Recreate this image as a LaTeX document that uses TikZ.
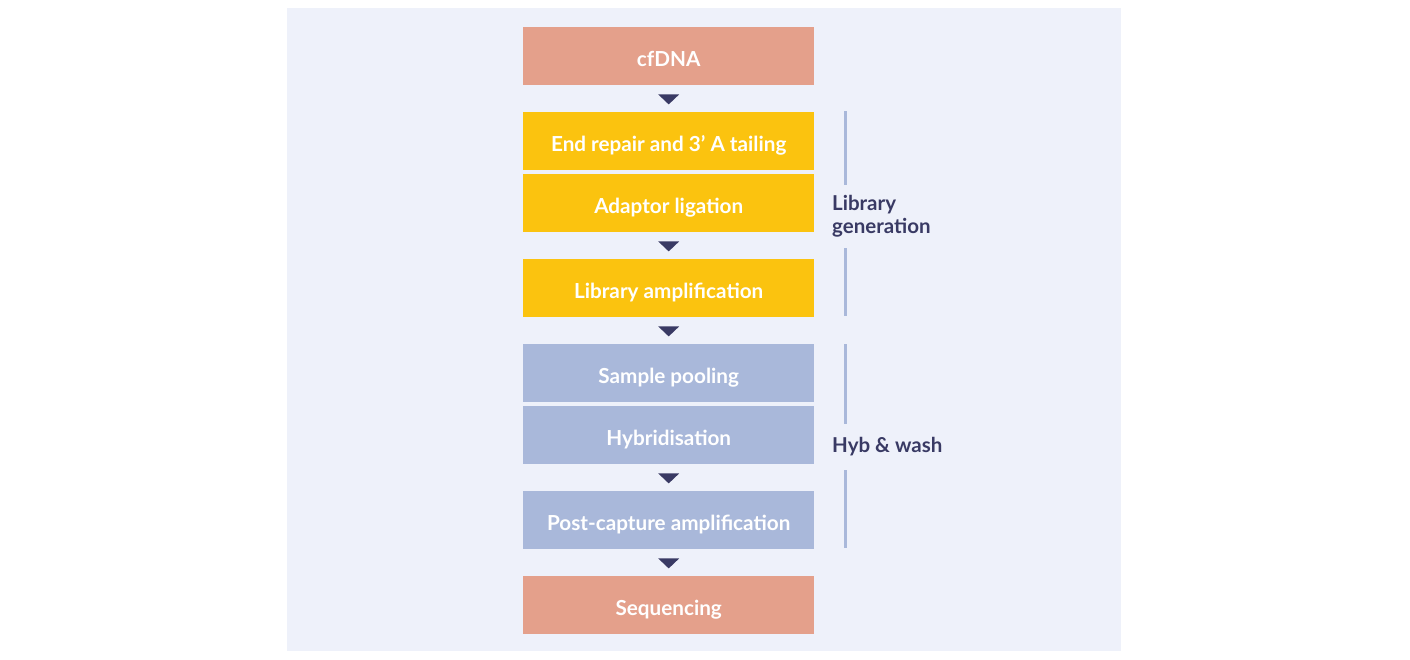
\documentclass[tikz,border=0pt]{standalone}
\usepackage{fontspec}
\setmainfont{Lato}[UprightFont=* Bold]
\definecolor{bgpanel}{HTML}{EEF1FA}
\definecolor{salmon}{HTML}{E4A08B}
\definecolor{amber}{HTML}{FBC30F}
\definecolor{slateblue}{HTML}{A9B8DA}
\definecolor{navy}{HTML}{393A64}
\begin{document}
\begin{tikzpicture}[x=1pt,y=-1pt,
  stepbox/.style={minimum width=291pt,minimum height=58pt,inner sep=0pt,anchor=north west,text=white,text height=20.5pt,text depth=0.5pt,font=\fontsize{20.7}{24}\selectfont},
  tri/.style={fill=navy},
  brk/.style={draw=slateblue,line width=3pt},
  lbl/.style={text=navy,font=\fontsize{20.5}{23}\selectfont,align=left,anchor=west,inner sep=0pt}]
\useasboundingbox (0,0) rectangle (1410,659);
\fill[bgpanel] (287,8) rectangle (1121,651);
\node[stepbox,fill=salmon] (n1) at (523,27) {cfDNA};
\node[stepbox,fill=amber] (n2) at (523,112) {End repair and 3’ A tailing};
\node[stepbox,fill=amber] (n3) at (523,174) {Adaptor ligation};
\node[stepbox,fill=amber] (n4) at (523,259) {Library amplification};
\node[stepbox,fill=slateblue] (n5) at (523,344) {Sample pooling};
\node[stepbox,fill=slateblue] (n6) at (523,406) {Hybridisation};
\node[stepbox,fill=slateblue] (n7) at (523,491) {Post-capture amplification};
\node[stepbox,fill=salmon] (n8) at (523,576) {Sequencing};
\foreach \a in {n1,n3,n4,n6,n7}{
  \fill[tri] (\a.south) ++(-10.5,9) -- ++(21,0) -- ++(-10.5,10) -- cycle;
}
\node[lbl] (lib) at (832,216) {Library\\generation};
\node[lbl] (hyb) at (832,447) {Hyb \& wash};
\coordinate (l1a) at (845,111); \coordinate (l1b) at (845,185);
\coordinate (l2a) at (845,248); \coordinate (l2b) at (845,316);
\coordinate (h1a) at (845,344); \coordinate (h1b) at (845,424);
\coordinate (h2a) at (845,470); \coordinate (h2b) at (845,548);
\draw[brk] (l1a) -- (l1b);
\draw[brk] (l2a) -- (l2b);
\draw[brk] (h1a) -- (h1b);
\draw[brk] (h2a) -- (h2b);
\end{tikzpicture}
\end{document}
